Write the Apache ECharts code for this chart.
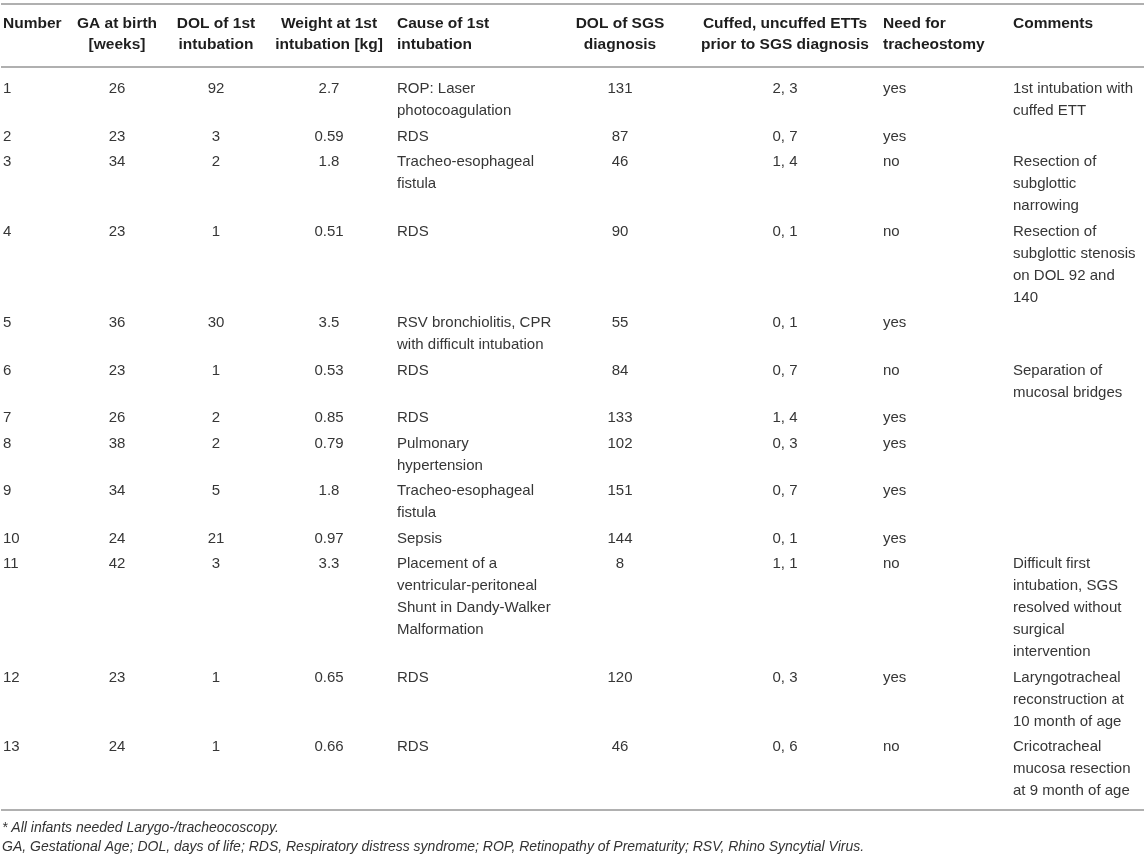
<!DOCTYPE html>
<html>
<head>
<meta charset="utf-8">
<script src="https://cdn.jsdelivr.net/npm/echarts@6.0.0/dist/echarts.min.js"></script>
<style>
html,body{margin:0;padding:0;background:#fff;}
#chart{width:1145px;height:859px;}
</style>
</head>
<body>
<div id="chart"></div>
<script>
// ---------------- data ----------------
const columnHeaders = ['Number', 'GA at birth\n[weeks]', 'DOL of 1st\nintubation', 'Weight at 1st\nintubation [kg]',
  'Cause of 1st\nintubation', 'DOL of SGS\ndiagnosis', 'Cuffed, uncuffed ETTs\nprior to SGS diagnosis',
  'Need for\ntracheostomy', 'Comments'];
const patientNumber = [1, 2, 3, 4, 5, 6, 7, 8, 9, 10, 11, 12, 13];
const gaAtBirth = [26, 23, 34, 23, 36, 23, 26, 38, 34, 24, 42, 23, 24];
const dolFirstIntubation = [92, 3, 2, 1, 30, 1, 2, 2, 5, 21, 3, 1, 1];
const weightFirstIntubation = ['2.7', '0.59', '1.8', '0.51', '3.5', '0.53', '0.85', '0.79', '1.8', '0.97', '3.3', '0.65', '0.66'];
const causeFirstIntubation = ['ROP: Laser\nphotocoagulation', 'RDS', 'Tracheo-esophageal\nfistula', 'RDS',
  'RSV bronchiolitis, CPR\nwith difficult intubation', 'RDS', 'RDS', 'Pulmonary\nhypertension',
  'Tracheo-esophageal\nfistula', 'Sepsis',
  'Placement of a\nventricular-peritoneal\nShunt in Dandy-Walker\nMalformation', 'RDS', 'RDS'];
const dolSgsDiagnosis = [131, 87, 46, 90, 55, 84, 133, 102, 151, 144, 8, 120, 46];
const ettsPriorToSgs = ['2, 3', '0, 7', '1, 4', '0, 1', '0, 1', '0, 7', '1, 4', '0, 3', '0, 7', '0, 1', '1, 1', '0, 3', '0, 6'];
const needTracheostomy = ['yes', 'yes', 'no', 'no', 'yes', 'no', 'yes', 'yes', 'yes', 'yes', 'no', 'yes', 'no'];
const comments = ['1st intubation with\ncuffed ETT', '', 'Resection of\nsubglottic\nnarrowing',
  'Resection of\nsubglottic stenosis\non DOL 92 and\n140', '', 'Separation of\nmucosal bridges', '', '', '', '',
  'Difficult first\nintubation, SGS\nresolved without\nsurgical\nintervention',
  'Laryngotracheal\nreconstruction at\n10 month of age', 'Cricotracheal\nmucosa resection\nat 9 month of age'];
const footnotes = ['* All infants needed Larygo-/tracheocoscopy.',
  'GA, Gestational Age; DOL, days of life; RDS, Respiratory distress syndrome; ROP, Retinopathy of Prematurity; RSV, Rhino Syncytial Virus.'];

// ---------------- layout (not data) ----------------
const W = 1145, H = 859;
const colX = [3, 117, 216, 329, 397, 620, 785, 883, 1013];
const colAlign = ['left', 'center', 'center', 'center', 'left', 'center', 'center', 'left', 'left'];
const topRuleY = 4, headerTop = 12.5, headerLineH = 21.5, headerRuleY = 67;
const bodyTop = 78, bodyLineH = 22, rowGap = 3.5;
const bodyFont = '15px "Liberation Sans", Arial, Helvetica, sans-serif';
const headFont = 'bold 15.5px "Liberation Sans", Arial, Helvetica, sans-serif';
const footFont = 'italic 14px "Liberation Sans", Arial, Helvetica, sans-serif';

// ---------------- build table ----------------
const rows = patientNumber.map((n, i) => [
  String(n), String(gaAtBirth[i]), String(dolFirstIntubation[i]), weightFirstIntubation[i],
  causeFirstIntubation[i], String(dolSgsDiagnosis[i]), ettsPriorToSgs[i], needTracheostomy[i], comments[i]
]);
const lineCounts = rows.map(cells => Math.max.apply(null, cells.map(t => t.split('\n').length)));
const rowTop = [];
let yCursor = bodyTop;
lineCounts.forEach(n => { rowTop.push(yCursor); yCursor += n * bodyLineH + rowGap; });
const bottomRuleY = yCursor + 4.5;
const footY = [bottomRuleY + 18, bottomRuleY + 37];
const ruleYs = [topRuleY, headerRuleY, bottomRuleY];

const headerData = columnHeaders.map((h, c) => [c, 0]);
const bodyData = [];
rows.forEach((cells, r) => cells.forEach((t, c) => { if (t !== '') bodyData.push([c, r]); }));
const ruleData = ruleYs.map((y, i) => [i]);
const footData = footnotes.map((f, i) => [i]);

const chart = echarts.init(document.getElementById('chart'), null, { renderer: 'canvas' });
chart.setOption({
  backgroundColor: '#ffffff',
  animation: false,
  grid: { left: 0, right: 0, top: 0, bottom: 0 },
  xAxis: { type: 'value', min: 0, max: W, show: false },
  yAxis: { type: 'value', min: 0, max: H, inverse: true, show: false },
  series: [
    {
      type: 'custom', coordinateSystem: 'cartesian2d', clip: false, silent: true,
      data: ruleData,
      renderItem: function (params, api) {
        const y = ruleYs[api.value(0)];
        const a = api.coord([1, y]), b = api.coord([W - 1, y]);
        return { type: 'line', shape: { x1: a[0], y1: a[1], x2: b[0], y2: b[1] },
          style: { stroke: '#b0b0b0', lineWidth: 2 } };
      }
    },
    {
      type: 'custom', coordinateSystem: 'cartesian2d', clip: false, silent: true,
      data: headerData,
      renderItem: function (params, api) {
        const c = api.value(0);
        const p = api.coord([colX[c], headerTop]);
        return { type: 'text', x: p[0], y: p[1],
          style: { text: columnHeaders[c], font: headFont, fill: '#1e1e1e', align: colAlign[c],
            verticalAlign: 'top', lineHeight: headerLineH } };
      }
    },
    {
      type: 'custom', coordinateSystem: 'cartesian2d', clip: false, silent: true,
      data: bodyData,
      renderItem: function (params, api) {
        const c = api.value(0), r = api.value(1);
        const p = api.coord([colX[c], rowTop[r]]);
        return { type: 'text', x: p[0], y: p[1],
          style: { text: rows[r][c], font: bodyFont, fill: '#363636', align: colAlign[c],
            verticalAlign: 'top', lineHeight: bodyLineH } };
      }
    },
    {
      type: 'custom', coordinateSystem: 'cartesian2d', clip: false, silent: true,
      data: footData,
      renderItem: function (params, api) {
        const i = api.value(0);
        const p = api.coord([2, footY[i]]);
        return { type: 'text', x: p[0], y: p[1],
          style: { text: footnotes[i], font: footFont, fill: '#333', align: 'left', verticalAlign: 'middle' } };
      }
    }
  ]
});
</script>
</body>
</html>
